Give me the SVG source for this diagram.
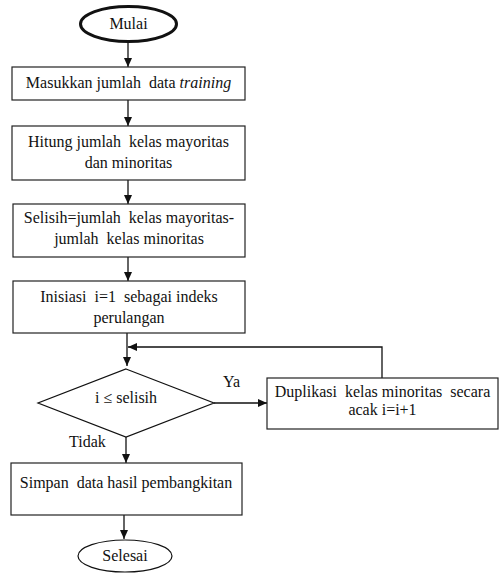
<svg xmlns="http://www.w3.org/2000/svg" width="501" height="583" viewBox="0 0 501 583">
<style>
.box{fill:#fff;stroke:#222;stroke-width:1.2}
.t{font-family:'Liberation Serif','Times New Roman',serif;font-size:16px;fill:#111;text-anchor:middle}
.l{font-family:'Liberation Serif','Times New Roman',serif;font-size:16px;fill:#111}
.c{fill:none;stroke:#111;stroke-width:1.3}
</style>
<defs>
<marker id="ah" markerWidth="10" markerHeight="10" refX="9" refY="5" orient="auto" markerUnits="userSpaceOnUse">
<path d="M0,1 L9,5 L0,9 Z" fill="#111"/>
</marker>
</defs>
<rect width="501" height="583" fill="#fff"/>
<g id="connectors">
<line class="c" x1="128" y1="43" x2="128" y2="67" marker-end="url(#ah)"/>
<line class="c" x1="128" y1="100" x2="128" y2="126" marker-end="url(#ah)"/>
<line class="c" x1="128" y1="180" x2="128" y2="204" marker-end="url(#ah)"/>
<line class="c" x1="128" y1="257" x2="128" y2="281" marker-end="url(#ah)"/>
<line class="c" x1="127" y1="333" x2="127" y2="366" marker-end="url(#ah)"/>
<polyline class="c" points="382,378 382,347 128,347" marker-end="url(#ah)"/>
<line class="c" x1="214" y1="403" x2="267" y2="403" marker-end="url(#ah)"/>
<line class="c" x1="126" y1="437" x2="126" y2="463" marker-end="url(#ah)"/>
<line class="c" x1="124" y1="515" x2="124" y2="539" marker-end="url(#ah)"/>
</g>
<g id="mulai">
<ellipse cx="128.5" cy="24" rx="48" ry="17.5" fill="#fff" stroke="#111" stroke-width="3"/>
<text class="t" x="128.5" y="29">Mulai</text>
</g>
<g id="input">
<rect class="box" x="12" y="67" width="233" height="33"/>
<text class="t" x="128.5" y="88" xml:space="preserve">Masukkan jumlah  data <tspan font-style="italic">training</tspan></text>
</g>
<g id="hitung">
<rect class="box" x="12" y="126" width="233" height="54"/>
<text class="t" x="128.5" y="147" xml:space="preserve">Hitung jumlah  kelas mayoritas</text>
<text class="t" x="128.5" y="168">dan minoritas</text>
</g>
<g id="selisih">
<rect class="box" x="13" y="204" width="232" height="53"/>
<text class="t" x="129" y="223" xml:space="preserve">Selisih=jumlah  kelas mayoritas-</text>
<text class="t" x="129" y="244" xml:space="preserve">jumlah  kelas minoritas</text>
</g>
<g id="inisiasi">
<rect class="box" x="13" y="281" width="232" height="52"/>
<text class="t" x="129" y="302" xml:space="preserve">Inisiasi  i=1  sebagai indeks</text>
<text class="t" x="129" y="323">perulangan</text>
</g>
<g id="kondisi">
<polygon points="126,369 214,403 126,437 38,403" fill="#fff" stroke="#111" stroke-width="1.2"/>
<text class="t" x="126" y="403">i ≤ selisih</text>
</g>
<g id="duplikasi">
<rect class="box" x="267" y="378" width="231" height="51"/>
<text class="t" x="382.5" y="397" xml:space="preserve">Duplikasi  kelas minoritas  secara</text>
<text class="t" x="382.5" y="415">acak i=i+1</text>
</g>
<g id="simpan">
<rect class="box" x="11" y="463" width="231" height="52"/>
<text class="t" x="126" y="488" xml:space="preserve">Simpan  data hasil pembangkitan</text>
</g>
<g id="selesai">
<ellipse cx="125" cy="556" rx="47" ry="16" fill="#fff" stroke="#111" stroke-width="1.2"/>
<text class="t" x="125" y="561">Selesai</text>
</g>
<g id="labels">
<text class="l" x="223" y="387">Ya</text>
<text class="l" x="69" y="447">Tidak</text>
</g>
</svg>
